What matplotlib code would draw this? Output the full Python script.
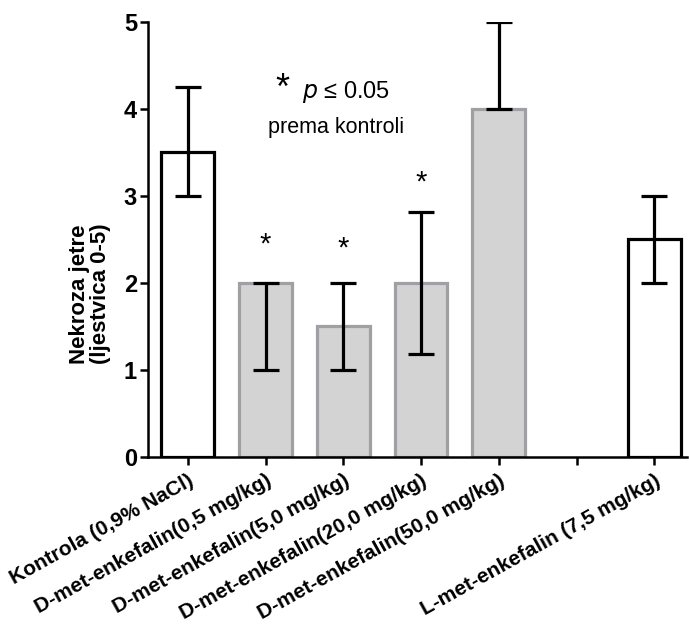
import numpy as np
import matplotlib.pyplot as plt

# data
groups = ['Kontrola (0,9% NaCl)', 'D-met-enkefalin(0,5 mg/kg)', 'D-met-enkefalin(5,0 mg/kg)',
          'D-met-enkefalin(20,0 mg/kg)', 'D-met-enkefalin(50,0 mg/kg)', '', 'L-met-enkefalin (7,5 mg/kg)']
values = [3.5, 2.0, 1.5, 2.0, 4.0, np.nan, 2.5]
err_low = [3.0, 1.0, 1.0, 1.18, 4.0, np.nan, 2.0]
err_high = [4.25, 2.0, 2.0, 2.82, 5.0, np.nan, 3.0]
grey = [False, True, True, True, True, False, False]
star_y = [np.nan, 2.44, 2.39, 3.15, np.nan, np.nan, np.nan]

plt.rcParams['font.family'] = ['Liberation Sans', 'DejaVu Sans']

fig = plt.figure(figsize=(6.89, 6.26), dpi=100)
ax = fig.add_axes([0.215, 0.270, 0.782, 0.695])

x = np.arange(len(groups))
for i in x:
    if np.isnan(values[i]):
        continue
    if grey[i]:
        fc, ec = '#d3d3d3', '#a0a0a4'
    else:
        fc, ec = 'white', 'black'
    ax.bar(i, values[i], width=0.68, color=fc, edgecolor=ec, linewidth=2.3, zorder=2)
    ax.errorbar(i, values[i], yerr=[[values[i] - err_low[i]], [err_high[i] - values[i]]],
                fmt='none', ecolor='black', elinewidth=2.3, capsize=9.5, capthick=2.3, zorder=3)
    if not np.isnan(star_y[i]):
        ax.text(i, star_y[i], '*', ha='center', va='center', fontsize=21)

# note about significance
ax.text(1.22, 4.22, '*', ha='center', va='center', fontsize=26)
ax.text(2.03, 4.2, '$p$ ≤ 0.05', ha='center', va='center', fontsize=17)
ax.text(1.91, 3.79, 'prema kontroli', ha='center', va='center', fontsize=15.5)

ax.set_xlim(-0.51, 6.42)
ax.set_ylim(0, 5)
ax.set_yticks([0, 1, 2, 3, 4, 5])
ax.set_xticks(x)
ax.set_xticklabels(groups, rotation=29, ha='right', rotation_mode='anchor',
                   fontsize=15, fontweight='bold')
for lab in ax.get_yticklabels():
    lab.set_fontweight('bold')
    lab.set_fontsize(17)

ax.set_ylabel('Nekroza jetre\n(ljestvica 0-5)', fontsize=16, fontweight='bold', linespacing=1.0)
ax.yaxis.set_label_coords(-0.068, 0.375)

ax.spines['top'].set_visible(False)
ax.spines['right'].set_visible(False)
ax.spines['left'].set_linewidth(1.8)
ax.spines['bottom'].set_linewidth(1.8)
ax.tick_params(axis='both', width=1.8, length=6, direction='out')
ax.tick_params(axis='y', pad=2)
ax.tick_params(axis='x', pad=4)

fig.savefig('out.png', dpi=100)
